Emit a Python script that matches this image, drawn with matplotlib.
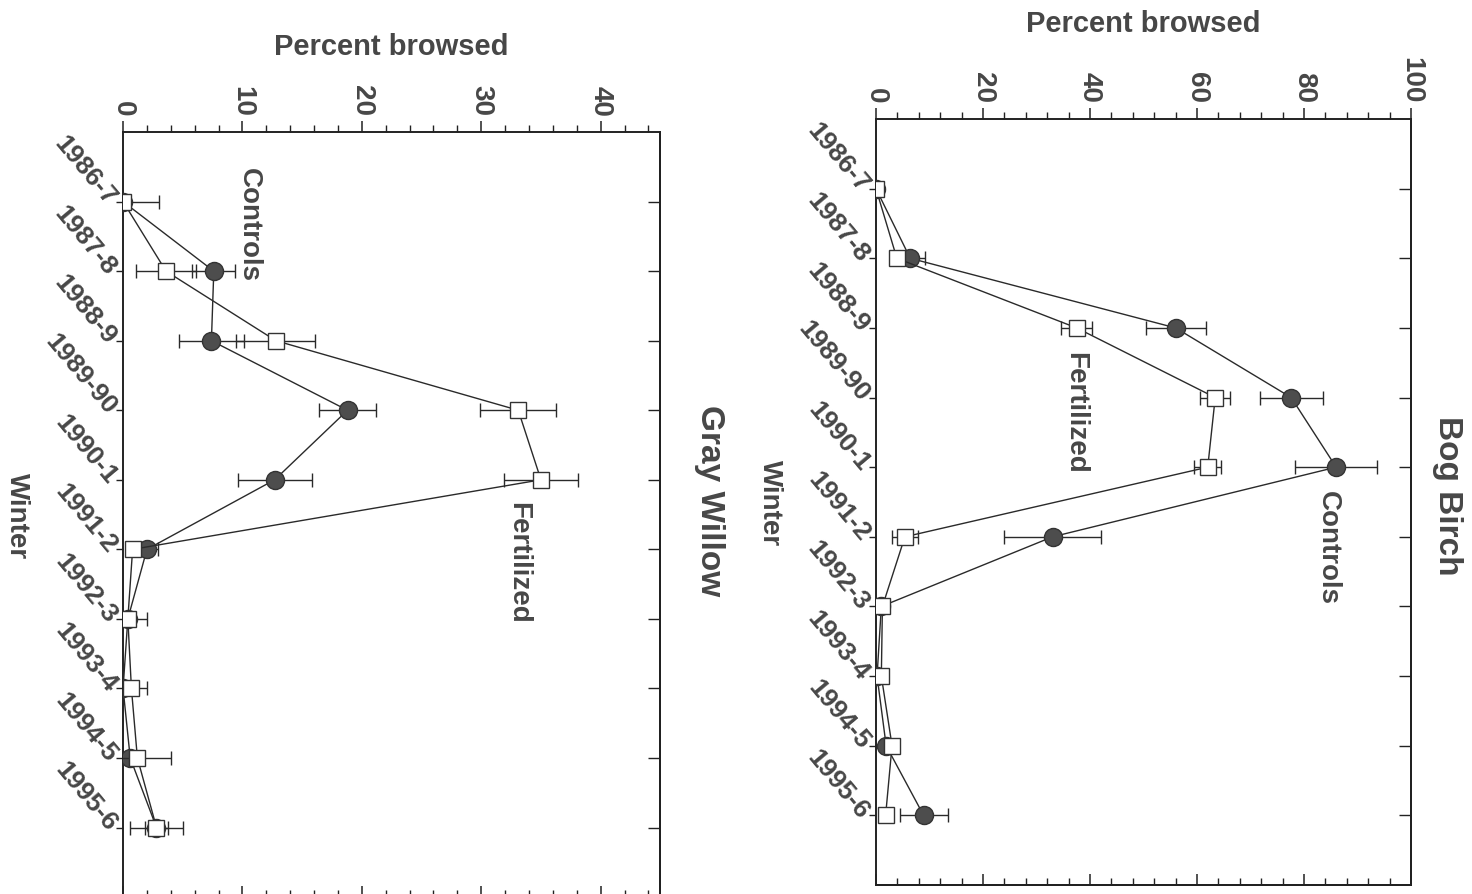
import matplotlib
matplotlib.use("Agg")
import matplotlib.pyplot as plt
from matplotlib.ticker import MultipleLocator
import numpy as np

winters = ['1986-7', '1987-8', '1988-9', '1989-90', '1990-1',
           '1991-2', '1992-3', '1993-4', '1994-5', '1995-6']

birch_controls = [0, 6.4, 56.0, 77.6, 86.0, 33.0, 1.0, 0.2, 1.9, 8.9]
birch_controls_err = [0, 2.7, 5.6, 5.9, 7.7, 9.0, 0, 0, 0, 4.5]
birch_fert = [0, 3.9, 37.5, 63.4, 62.0, 5.4, 1.2, 1.0, 3.0, 1.8]
birch_fert_err = [0, 1.0, 2.9, 2.8, 2.5, 2.4, 0.5, 0.5, 0.8, 1.2]

willow_controls = [0, 7.6, 7.4, 18.8, 12.7, 2.0, 0.4, 0, 0.6, 2.8]
willow_controls_err = [0, 1.8, 2.7, 2.4, 3.1, 0.9, 0, 0, 0, 1.0]
willow_fert = [0, 3.6, 12.8, 33.1, 35.0, 0.8, 0.4, 0.7, 1.2, 2.8]
willow_fert_err = [3.0, 2.5, 3.3, 3.2, 3.1, 0, 1.6, 1.3, 2.8, 2.2]

TXT = '#474747'
LINE = '#2a2a2a'
FILL = '#4d4d4d'
plt.rcParams['font.family'] = ['Liberation Sans', 'DejaVu Sans']

fig = plt.figure(figsize=(14.72, 8.95), dpi=100)


def panel(ax, controls, c_err, fert, f_err, xmax, major, minor, title,
          ann_c, ann_f, title_x, title_y, xlabelpad):
    y = np.arange(len(winters))
    ax.errorbar(controls, y, xerr=c_err, fmt='-o', color=LINE, lw=1.0,
                ms=13, mfc=FILL, mec='#333333', ecolor=LINE, elinewidth=1.0,
                capsize=5, capthick=1.0, zorder=3)
    ax.errorbar(fert, y, xerr=f_err, fmt='-s', color=LINE, lw=1.0,
                ms=11.5, mfc='white', mec='#333333', mew=1.0, ecolor=LINE,
                elinewidth=1.0, capsize=5, capthick=1.0, zorder=4)
    ax.set_xlim(0, xmax)
    ax.set_ylim(10, -1)
    for s in ax.spines.values():
        s.set_linewidth(1.4)
        s.set_color('#222222')
    # top ticks (outward) with labels
    ax.xaxis.set_ticks_position('top')
    ax.xaxis.set_label_position('top')
    ax.xaxis.set_major_locator(MultipleLocator(major))
    ax.xaxis.set_minor_locator(MultipleLocator(minor))
    ax.tick_params(axis='x', which='major', direction='out', length=8,
                   width=1.1, labelsize=20, labelrotation=-90, pad=4,
                   labelcolor=TXT, color='#222222')
    ax.tick_params(axis='x', which='minor', direction='out', length=5,
                   width=1.0, color='#222222')
    for lab in ax.get_xticklabels():
        lab.set_fontweight('bold')
    ax.set_xlabel('Percent browsed', fontsize=21, fontweight='bold',
                  color=TXT, labelpad=xlabelpad)
    # bottom ticks inward
    sec = ax.secondary_xaxis('bottom')
    sec.xaxis.set_major_locator(MultipleLocator(major))
    sec.xaxis.set_minor_locator(MultipleLocator(minor))
    sec.tick_params(axis='x', which='major', direction='in', length=8,
                    width=1.1, labelbottom=False, color='#222222')
    sec.tick_params(axis='x', which='minor', direction='in', length=5,
                    width=1.0, color='#222222')
    sec.spines['bottom'].set_linewidth(1.4)
    # y ticks
    ax.set_yticks(y)
    ax.set_yticklabels(winters, rotation=-50, ha='right', va='center',
                       rotation_mode='anchor', fontsize=19,
                       fontweight='bold', color=TXT)
    ax.tick_params(axis='y', direction='out', length=5, width=1.0, pad=3,
                   color='#222222')
    secy = ax.secondary_yaxis('right')
    secy.set_yticks(y)
    secy.tick_params(axis='y', direction='in', length=9, width=1.0,
                     labelright=False, color='#222222')
    secy.spines['right'].set_linewidth(1.4)
    ax.text(-0.198, 0.5, 'Winter', transform=ax.transAxes, rotation=-90,
            ha='center', va='center', fontsize=20, fontweight='bold',
            color=TXT)
    ax.text(title_x, title_y, title, transform=ax.transAxes, rotation=-90,
            ha='center', va='center', fontsize=24, fontweight='bold',
            color=TXT)
    ax.text(ann_c[0], ann_c[1], 'Controls', rotation=-90, ha='center',
            va='center', fontsize=20, fontweight='bold', color=TXT)
    ax.text(ann_f[0], ann_f[1], 'Fertilized', rotation=-90, ha='center',
            va='center', fontsize=20, fontweight='bold', color=TXT)


ax_b = fig.add_axes([0.5951, 0.0101, 0.3635, 0.8558])
panel(ax_b, birch_controls, birch_controls_err, birch_fert, birch_fert_err,
      100, 20, 4, 'Bog Birch', (84.5, 5.15), (37.2, 3.2), 1.069, 0.51, 18)

ax_w = fig.add_axes([0.0836, -0.0034, 0.3650, 0.8547])
panel(ax_w, willow_controls, willow_controls_err, willow_fert,
      willow_fert_err, 45, 10, 2, 'Gray Willow', (10.5, 0.32), (33.1, 5.18),
      1.092, 0.52, 22)

fig.savefig('out.png', dpi=100, facecolor='white')
